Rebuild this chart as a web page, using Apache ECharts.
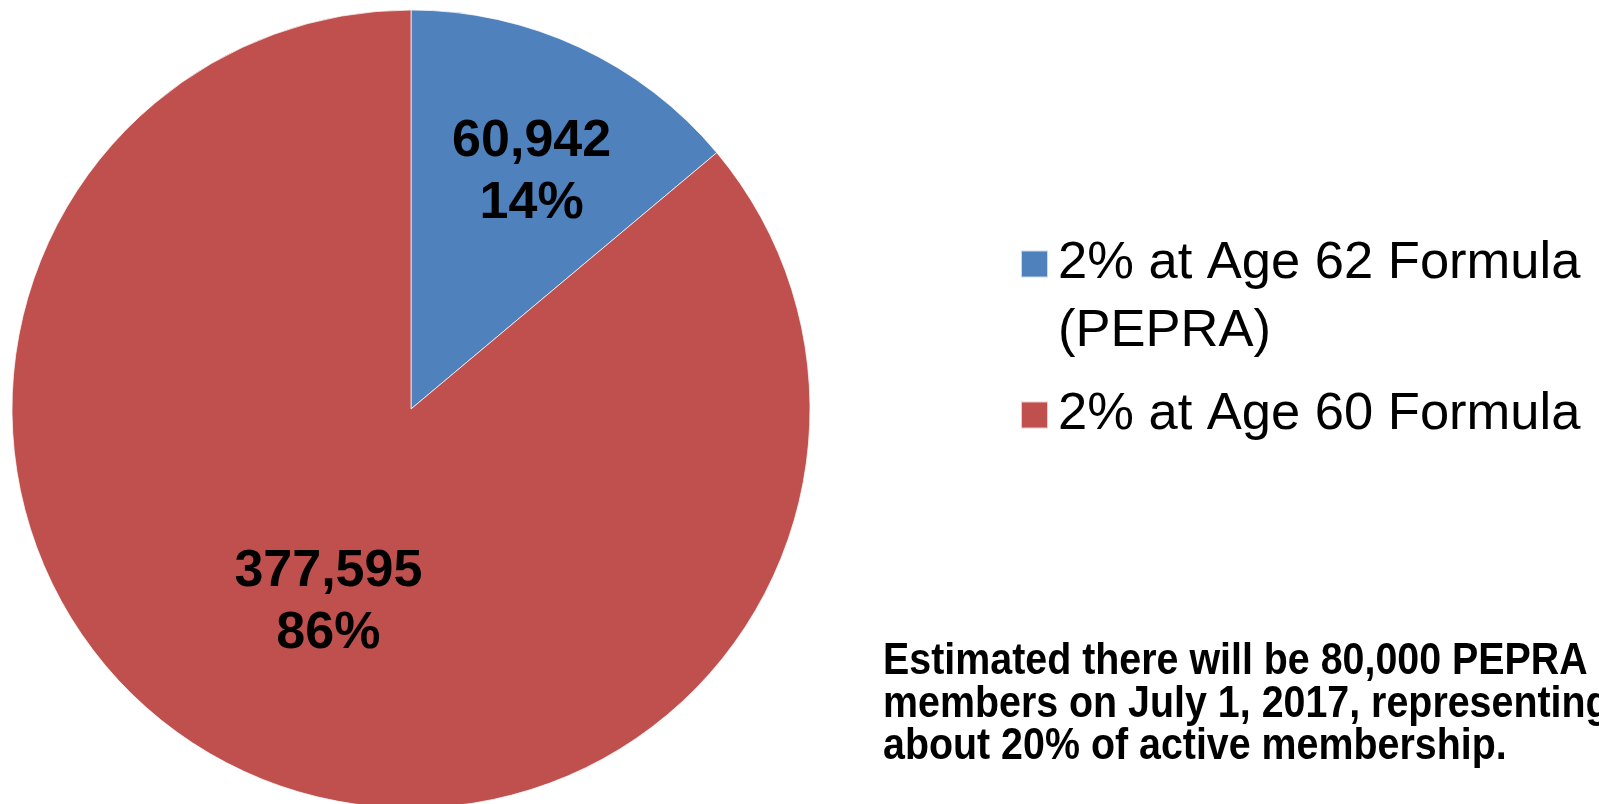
<!DOCTYPE html>
<html>
<head>
<meta charset="utf-8">
<style>
  html, body { margin: 0; padding: 0; background: #fff; }
  #chart { width: 1599px; height: 804px; }
</style>
<script src="https://cdn.jsdelivr.net/npm/echarts@6/dist/echarts.min.js"></script>
</head>
<body>
<div id="chart"></div>
<script>
// Membership by benefit formula
const categories = ['2% at Age 62 Formula (PEPRA)', '2% at Age 60 Formula'];
const members = [60942, 377595];
const sliceColors = ['#4F81BD', '#C0504D'];
// a leading blank line keeps the legend swatch level with the first text line
const legendLabels = ['\n2% at Age 62 Formula\n(PEPRA)', '2% at Age 60 Formula'];
const noteLines = [
  'Estimated there will be 80,000 PEPRA',
  'members on July 1, 2017, representing',
  'about 20% of active membership.'
];

// fine placement of the in-slice labels (px shift from the mid-radius point)
const labelShift = [[35, -53], [3, 10]];

const chart = echarts.init(document.getElementById('chart'), null, { renderer: 'canvas' });

const FONT = "'Liberation Sans', Arial, sans-serif";
const LEGEND_LH = 68;

function legendFor(i, top) {
  return {
    data: [categories[i]],
    orient: 'vertical',
    left: 1020,
    top: top,
    padding: 0,
    itemWidth: 27,
    itemHeight: 27,
    icon: 'rect',
    selectedMode: false,
    formatter: () => legendLabels[i],
    textStyle: {
      fontFamily: FONT,
      fontSize: 52.5,
      color: '#000',
      lineHeight: LEGEND_LH,
      padding: [0, 0, 0, 5]
    }
  };
}

chart.setOption({
  animation: false,
  color: sliceColors,
  legend: [
    legendFor(0, 162),
    legendFor(1, 381)
  ],
  graphic: [{
    // condensed bold note, narrowed horizontally
    type: 'text',
    x: 883,
    y: 641,
    scaleX: 0.895,
    originX: 0,
    style: {
      text: noteLines.join('\n'),
      font: "bold 44px 'Liberation Sans', Arial, sans-serif",
      lineHeight: 42.5,
      align: 'left',
      verticalAlign: 'top',
      fill: '#000'
    }
  }],
  series: [{
    type: 'pie',
    center: [411, 409],
    radius: 399,
    startAngle: 90,
    clockwise: true,
    avoidLabelOverlap: false,
    data: categories.map((name, i) => ({ name, value: members[i] })),
    itemStyle: { borderColor: 'rgba(255,255,255,0.7)', borderWidth: 1 },
    label: {
      show: true,
      position: 'inside',
      formatter: p => p.value.toLocaleString('en-US') + '\n' + Math.round(p.percent) + '%',
      fontFamily: FONT,
      fontWeight: 'bold',
      fontSize: 52,
      lineHeight: 62,
      color: '#000',
      align: 'center'
    },
    labelLayout: p => ({ dx: labelShift[p.dataIndex][0], dy: labelShift[p.dataIndex][1] }),
    labelLine: { show: false },
    emphasis: { disabled: true }
  }]
});
</script>
</body>
</html>
